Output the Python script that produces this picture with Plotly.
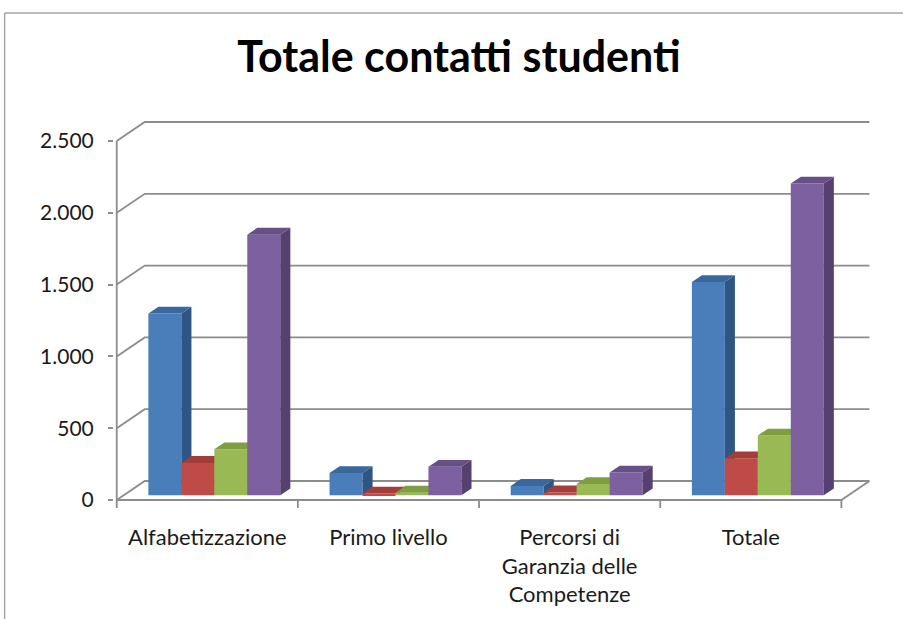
import plotly.graph_objects as go

# ---------------- data ----------------
categories = ["Alfabetizzazione", "Primo livello", "Percorsi di<br>Garanzia delle<br>Competenze", "Totale"]
series_names = ["Serie 1", "Serie 2", "Serie 3", "Serie 4"]
serie1 = [1265, 155, 65, 1485]
serie2 = [225, 12, 20, 257]
serie3 = [320, 18, 78, 416]
serie4 = [1815, 198, 158, 2171]
y_tickvals = [0, 500, 1000, 1500, 2000, 2500]
y_ticktext = ["0", "500", "1.000", "1.500", "2.000", "2.500"]
title_text = "Totale contatti studenti"

series_values = [serie1, serie2, serie3, serie4]
front_colors = ["#4A7EBB", "#BE4B48", "#98B954", "#7D60A0"]
side_colors = ["#2E5584", "#8A3331", "#6E8A38", "#55406F"]
top_colors = ["#3A689E", "#A23D3A", "#7F9E42", "#674F87"]

# ---------------- geometry (pseudo-3D projection) ----------------
W, H = 903, 619
px_per_x = 181.0          # pixels per category unit
px_per_y = 0.1436         # pixels per value unit
x_left_px = 117.0         # pixel of x = -0.5 (front axis)
y_zero_px = 500.0         # pixel of y = 0 (front floor edge)

dxu = 28.0 / px_per_x     # full depth offset (x units)
dyv = 19.0 / px_per_y     # full depth offset (y units)
f_front = 0.25            # bar front plane fraction of depth
f_depth = 0.36            # bar depth fraction
ddx = f_depth * dxu
ddy = f_depth * dyv
base = f_front * dyv
bar_w = 0.182
group_w = bar_w * 4

xmin, xmax = -0.515, 3.68
ymax_v = 2716.0
margin_t = y_zero_px - ymax_v * px_per_y
margin_l = x_left_px + (xmin + 0.5) * px_per_x
margin_r = W - (x_left_px + (xmax + 0.5) * px_per_x)
ymin_v = -9.0 / px_per_y
margin_b = H - (y_zero_px - ymin_v * px_per_y)

fig = go.Figure()
grid_col = "#8C8C8C"

# back wall gridlines + left wall diagonals
gx, gy = [], []
for v in y_tickvals:
    gx += [-0.5, -0.5 + dxu, 3.5 + dxu, None]
    gy += [v, v + dyv, v + dyv, None]
# floor outline
gx += [-0.5, 3.5, 3.5 + dxu, None]
gy += [0, 0, dyv, None]
# front vertical axis
gx += [-0.5, -0.5, None]
gy += [0, y_tickvals[-1], None]
# category tick marks below floor
for b in [-0.5, 0.5, 1.5, 2.5, 3.5]:
    gx += [b, b, None]
    gy += [0, -8.0 / px_per_y, None]
fig.add_trace(go.Scatter(x=gx, y=gy, mode="lines", line=dict(color=grid_col, width=1.8),
                         hoverinfo="skip", showlegend=False, zorder=0))

n_cat = len(categories)
for i, vals in enumerate(series_values):
    xs = [c + f_front * dxu - group_w / 2 + bar_w * (i + 0.5) for c in range(n_cat)]
    fig.add_trace(go.Bar(x=xs, y=vals, base=base, width=bar_w, name=series_names[i],
                         marker=dict(color=front_colors[i], line=dict(width=0)),
                         showlegend=False, zorder=i + 1))
    sx, sy, tx, ty = [], [], [], []
    for xc, v in zip(xs, vals):
        x0, x1 = xc - bar_w / 2, xc + bar_w / 2
        sx += [x1, x1 + ddx, x1 + ddx, x1, x1, None]
        sy += [base, base + ddy, base + v + ddy, base + v, base, None]
        tx += [x0, x1, x1 + ddx, x0 + ddx, x0, None]
        ty += [base + v, base + v, base + v + ddy, base + v + ddy, base + v, None]
    fig.add_trace(go.Scatter(x=sx, y=sy, mode="lines", fill="toself", fillcolor=side_colors[i],
                             line=dict(width=0, color=side_colors[i]), hoverinfo="skip",
                             showlegend=False, zorder=i + 1))
    fig.add_trace(go.Scatter(x=tx, y=ty, mode="lines", fill="toself", fillcolor=top_colors[i],
                             line=dict(width=0, color=top_colors[i]), hoverinfo="skip",
                             showlegend=False, zorder=i + 1))

font_fam = "Lato, 'Open Sans', sans-serif"
fig.update_layout(
    width=W, height=H,
    margin=dict(l=margin_l, r=margin_r, t=margin_t, b=margin_b, autoexpand=False),
    paper_bgcolor="white", plot_bgcolor="white",
    barmode="overlay",
    title=dict(text="<b>" + title_text + "</b>", x=459.0 / W, xanchor="center", xref="container",
               y=1 - 57.0 / H, yanchor="middle", yref="container",
               font=dict(family=font_fam, size=43, color="black")),
    xaxis=dict(range=[xmin, xmax], showgrid=False, zeroline=False, showline=False,
               tickmode="array", tickvals=list(range(n_cat)), ticktext=categories,
               ticks="", ticklabelstandoff=13,
               tickfont=dict(family=font_fam, size=22, color="#1a1a1a")),
    yaxis=dict(range=[ymin_v, ymax_v], showgrid=False, zeroline=False, showline=False,
               tickmode="array", tickvals=y_tickvals, ticktext=y_ticktext,
               ticks="outside", ticklen=5, tickcolor=grid_col, tickwidth=1.8,
               ticklabelstandoff=10,
               tickfont=dict(family=font_fam, size=21, color="#1a1a1a")),
    showlegend=False,
)

# chart frame (top and left border)
pw = W - margin_l - margin_r
ph = H - margin_t - margin_b
def px_to_paper_x(p):
    return (p - margin_l) / pw
def px_to_paper_y(p):
    return (H - margin_b - p) / ph
fig.add_shape(type="line", xref="paper", yref="paper",
              x0=px_to_paper_x(5), y0=px_to_paper_y(13), x1=px_to_paper_x(903), y1=px_to_paper_y(13),
              line=dict(color="#A6A6A6", width=1.5))
fig.add_shape(type="line", xref="paper", yref="paper",
              x0=px_to_paper_x(5), y0=px_to_paper_y(13), x1=px_to_paper_x(5), y1=px_to_paper_y(619),
              line=dict(color="#A6A6A6", width=1.5))

fig.write_html("out.html", config={"displayModeBar": False},
               post_script="document.body.style.margin='0';")
